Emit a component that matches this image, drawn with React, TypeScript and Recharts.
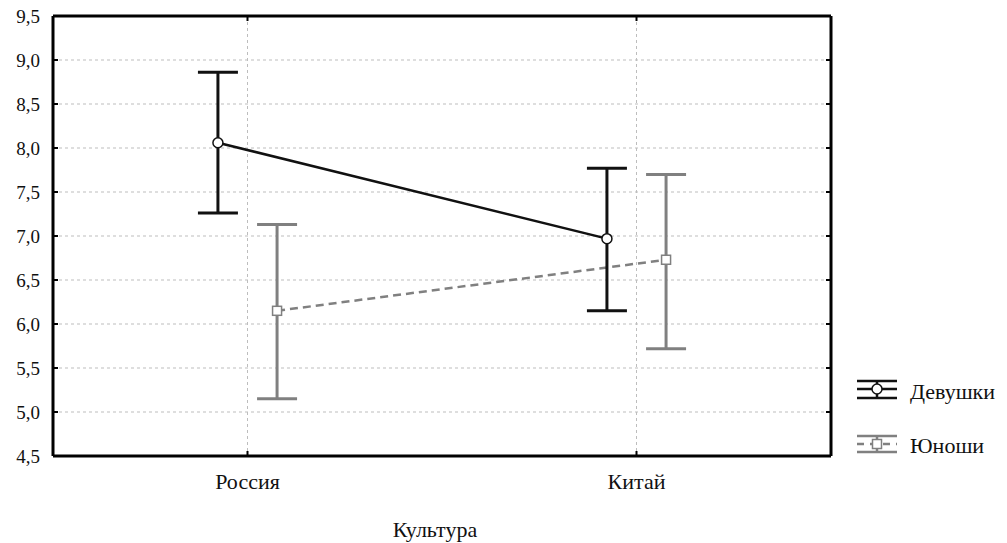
import React from 'react';
import { LineChart, Line, XAxis, YAxis, CartesianGrid, ErrorBar } from 'recharts';

const categories = ['Россия', 'Китай'];
const yTicks = [4.5, 5.0, 5.5, 6.0, 6.5, 7.0, 7.5, 8.0, 8.5, 9.0, 9.5];

const girlsMean = [8.06, 6.97];
const girlsLow = [7.26, 6.15];
const girlsHigh = [8.86, 7.77];

const boysMean = [6.15, 6.73];
const boysLow = [5.15, 5.72];
const boysHigh = [7.13, 7.70];

// horizontal shift of each series from the category centre (in category units)
const DODGE = 0.076;
const FONT = '"Liberation Serif", Tinos, "Noto Serif", "DejaVu Serif", FreeSerif, "Nimbus Roman", Times, serif';
const GIRLS = '#111111';
const BOYS = '#808080';

const build = (mean: number[], low: number[], high: number[], shift: number) =>
  categories.map((c, i) => ({
    name: c,
    x: i + 0.5 + shift,
    y: mean[i],
    err: [mean[i] - low[i], high[i] - mean[i]],
  }));

const girlsData = build(girlsMean, girlsLow, girlsHigh, -DODGE);
const boysData = build(boysMean, boysLow, boysHigh, DODGE);

const txt = { fontFamily: FONT, fill: '#111' };

const LeftTick = (props: any) => {
  const { x, y, payload } = props;
  return (
    <g>
      <line x1={x} y1={y} x2={x + 5} y2={y} stroke="#000" strokeWidth={2} />
      <text x={x - 13} y={y} dy="0.35em" textAnchor="end" style={{ ...txt, fontSize: 19 }}>
        {payload.value.toFixed(1).replace('.', ',')}
      </text>
    </g>
  );
};

const RightTick = (props: any) => {
  const { x, y } = props;
  return <line x1={x - 5} y1={y} x2={x} y2={y} stroke="#000" strokeWidth={2} />;
};

const BottomTick = (props: any) => {
  const { x, y, payload } = props;
  return (
    <g>
      <line x1={x} y1={y - 5} x2={x} y2={y} stroke="#000" strokeWidth={2} />
      <text x={x} y={y + 33} textAnchor="middle" style={{ ...txt, fontSize: 22 }}>
        {categories[Math.floor(payload.value)]}
      </text>
    </g>
  );
};

const TopTick = (props: any) => {
  const { x, y } = props;
  return <line x1={x} y1={y} x2={x} y2={y + 5} stroke="#000" strokeWidth={2} />;
};

const CircleDot = (props: any) => {
  const { cx, cy, index } = props;
  return <circle key={`c-${index}`} cx={cx} cy={cy} r={5} fill="#fff" stroke={GIRLS} strokeWidth={1.5} />;
};

const SquareDot = (props: any) => {
  const { cx, cy, index } = props;
  return <rect key={`s-${index}`} x={cx - 4.5} y={cy - 4.5} width={9} height={9} fill="#fff" stroke={BOYS} strokeWidth={1.5} />;
};

function LegendBox() {
  return (
    <svg width={152} height={100} style={{ position: 'absolute', left: 855, top: 370 }}>
      <g stroke={GIRLS} strokeWidth={2.5}>
        <line x1={2} y1={11} x2={42} y2={11} />
        <line x1={2} y1={19} x2={42} y2={19} />
        <line x1={2} y1={28} x2={42} y2={28} />
        <line x1={22} y1={11} x2={22} y2={28} />
      </g>
      <circle cx={22} cy={19} r={5} fill="#fff" stroke={GIRLS} strokeWidth={1.5} />
      <text x={55} y={29} style={{ ...txt, fontSize: 22 }}>Девушки</text>

      <g stroke={BOYS} strokeWidth={2.5}>
        <line x1={2} y1={66} x2={42} y2={66} />
        <line x1={2} y1={74} x2={42} y2={74} strokeDasharray="7 6" />
        <line x1={2} y1={82} x2={42} y2={82} />
        <line x1={22} y1={66} x2={22} y2={82} />
      </g>
      <rect x={17.5} y={69.5} width={9} height={9} fill="#fff" stroke={BOYS} strokeWidth={1.5} />
      <text x={55} y={83} style={{ ...txt, fontSize: 22 }}>Юноши</text>
    </svg>
  );
}

export default function App() {
  return (
    <div style={{ position: 'absolute', left: 0, top: 0, width: 1007, height: 543, background: '#fff', fontFamily: FONT }}>
      <LineChart width={1007} height={543} margin={{ top: 15, right: 175, bottom: 0, left: 0 }}>
        <CartesianGrid stroke="#bdbdbd" strokeDasharray="3 3" />
        <XAxis
          xAxisId={0}
          dataKey="x"
          type="number"
          domain={[0, 2]}
          ticks={[0.5, 1.5]}
          height={87}
          tickSize={0}
          tickMargin={0}
          tickLine={false}
          tick={<BottomTick />}
          axisLine={{ stroke: '#000', strokeWidth: 3 }}
          allowDataOverflow
        />
        <XAxis
          xAxisId="top"
          orientation="top"
          dataKey="x"
          type="number"
          domain={[0, 2]}
          ticks={[0.5, 1.5]}
          height={1}
          tickSize={0}
          tickMargin={0}
          tickLine={false}
          tick={<TopTick />}
          axisLine={{ stroke: '#000', strokeWidth: 3 }}
          allowDataOverflow
        />
        <YAxis
          yAxisId={0}
          type="number"
          domain={[4.5, 9.5]}
          ticks={yTicks}
          width={53}
          tickSize={0}
          tickMargin={0}
          tickLine={false}
          tick={<LeftTick />}
          axisLine={{ stroke: '#000', strokeWidth: 3 }}
          allowDataOverflow
        />
        <YAxis
          yAxisId="right"
          orientation="right"
          type="number"
          domain={[4.5, 9.5]}
          ticks={yTicks}
          width={1}
          tickSize={0}
          tickMargin={0}
          tickLine={false}
          tick={<RightTick />}
          axisLine={{ stroke: '#000', strokeWidth: 3 }}
          allowDataOverflow
        />
        {/* boys series is bound to the mirror axes (same domains) so the frame axes get drawn */}
        <Line
          data={boysData}
          xAxisId="top"
          yAxisId="right"
          dataKey="y"
          type="linear"
          stroke={BOYS}
          strokeWidth={2.5}
          strokeDasharray="8 5"
          dot={<SquareDot />}
          activeDot={false}
          isAnimationActive={false}
        >
          <ErrorBar dataKey="err" direction="y" width={20} stroke={BOYS} strokeWidth={3} />
        </Line>
        <Line
          data={girlsData}
          dataKey="y"
          type="linear"
          stroke={GIRLS}
          strokeWidth={2.5}
          dot={<CircleDot />}
          activeDot={false}
          isAnimationActive={false}
        >
          <ErrorBar dataKey="err" direction="y" width={20} stroke={GIRLS} strokeWidth={3} />
        </Line>
        <text x={435} y={537} textAnchor="middle" style={{ ...txt, fontSize: 22 }}>
          Культура
        </text>
      </LineChart>
      <LegendBox />
    </div>
  );
}
